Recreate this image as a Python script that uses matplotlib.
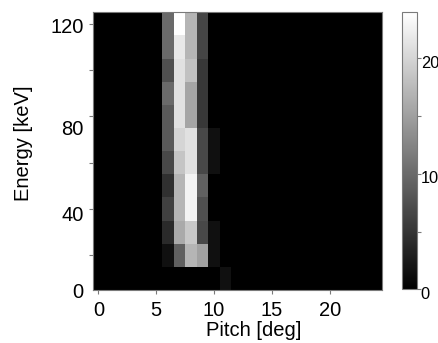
import numpy as np
import matplotlib
matplotlib.use("Agg")
import matplotlib.pyplot as plt
import matplotlib.transforms as mtransforms

# ---- data ----
pitch = np.arange(25)                      # deg, bin centres
energy = np.arange(10, 121, 10)            # keV, bin centres (10..120)

# counts per energy bin (10 -> 120 keV) for the non-empty pitch bins
counts_p6 = [0, 1.5, 4.0, 6.0, 4.5, 6.8, 8.5, 8.5, 10.0, 7.5, 10.0, 10.0]
counts_p7 = [0, 9.0, 16.0, 17.0, 17.0, 18.5, 20.0, 21.1, 21.1, 21.1, 21.8, 24.0]
counts_p8 = [0, 17.0, 18.8, 22.8, 22.8, 21.1, 21.1, 15.5, 15.5, 18.1, 17.0, 17.0]
counts_p9 = [0, 15.1, 6.8, 7.5, 9.0, 6.8, 6.8, 5.3, 5.3, 5.3, 6.5, 6.5]
counts_p10 = [0, 1.5, 1.5, 0, 0, 1.5, 1.5, 0, 0, 0, 0, 0]
counts_p11 = [1.5, 0, 0, 0, 0, 0, 0, 0, 0, 0, 0, 0]

x_ticks = [0, 5, 10, 15, 20]
y_tick_marks = [20, 40, 60, 80, 100, 120]
y_label_pos = [5.0, 37.9, 75.2, 119.3]
y_label_text = ["0", "40", "80", "120"]
cbar_major = [0, 10, 20]
cbar_minor = [5, 15]

# ---- build grid ----
Z = np.zeros((len(energy), len(pitch)))
for p, col in [(6, counts_p6), (7, counts_p7), (8, counts_p8),
               (9, counts_p9), (10, counts_p10), (11, counts_p11)]:
    Z[:, p] = col

px_edges = np.concatenate([pitch - 0.5, [pitch[-1] + 0.5]])
en_edges = np.concatenate([energy - 5, [energy[-1] + 5]])

plt.rcParams['font.family'] = ['Liberation Sans', 'DejaVu Sans']
FS = 14.5
spine_c = '#7a7a7a'

W, H = 439, 343
fig = plt.figure(figsize=(W / 100, H / 100), dpi=100)
ax = fig.add_axes([92.7 / W, 1 - 290 / H, (381.7 - 92.7) / W, (290 - 12.3) / H])
cax = fig.add_axes([401.7 / W, 1 - 289.3 / H, 15 / W, (289.3 - 12.3) / H])

mesh = ax.pcolormesh(px_edges, en_edges, Z, cmap='gray', vmin=0, vmax=24,
                     shading='flat')
ax.set_xlim(-0.5, 24.5)
ax.set_ylim(5, 125)

ax.set_xticks(x_ticks)
ax.set_xticklabels([str(t) for t in x_ticks], fontsize=FS)
ax.set_yticks(y_label_pos)
ax.set_yticklabels(y_label_text, fontsize=FS)
ax.set_yticks(y_tick_marks, minor=True)
ax.tick_params(axis='y', which='major', length=0, pad=6.5)
ax.tick_params(axis='y', which='minor', length=3, width=0.8, color=spine_c)
ax.tick_params(axis='x', which='major', length=3, width=0.8, color=spine_c, pad=5)
for s in ax.spines.values():
    s.set_color(spine_c)
    s.set_linewidth(0.8)

ax.set_ylabel('Energy [keV]', fontsize=FS)
ax.yaxis.set_label_coords(-0.205, 0.53)
ax.set_xlabel('Pitch [deg]', fontsize=FS)
ax.xaxis.set_label_coords(0.558, -0.112)

cb = fig.colorbar(mesh, cax=cax)
cb.set_ticks(cbar_major)
cb.set_ticklabels([str(t) for t in cbar_major])
cb.ax.set_yticks(cbar_minor, minor=True)
cb.ax.tick_params(which='both', length=3, width=0.8, color=spine_c,
                  labelsize=11.8, pad=0)
cb.outline.set_edgecolor(spine_c)
cb.outline.set_linewidth(0.8)
shift = mtransforms.ScaledTranslation(0, -2.5 / 72, fig.dpi_scale_trans)
for lab in cb.ax.get_yticklabels():
    lab.set_transform(lab.get_transform() + shift)

fig.savefig('out.png', dpi=100)
